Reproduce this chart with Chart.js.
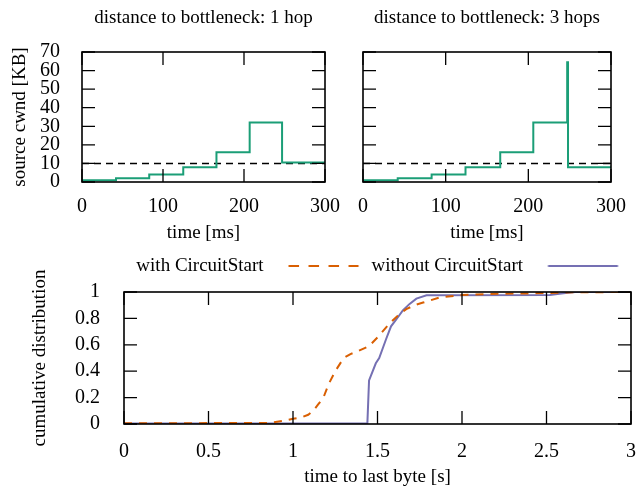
<!DOCTYPE html>
<html>
<head>
<meta charset="utf-8">
<script src="https://cdn.jsdelivr.net/npm/chart.js@4.4.1/dist/chart.umd.min.js"></script>
<style>
  html, body { margin: 0; padding: 0; background: #fff; }
  #wrap { position: relative; width: 640px; height: 487px; }
  canvas { position: absolute; }
</style>
</head>
<body>
<div id="wrap">
  <canvas id="hop1" width="340" height="250" style="left:0;top:0"></canvas>
  <canvas id="hop3" width="300" height="250" style="left:340px;top:0"></canvas>
  <canvas id="cdf" width="640" height="237" style="left:0;top:250px"></canvas>
</div>
<script>
// source cwnd over time, 1 hop to the bottleneck
const hop1Times = [0, 42, 83, 125, 166, 207, 247, 300];
const hop1Cwnd = [1, 2, 4, 8, 16, 32, 10.5, 10.5];
// source cwnd over time, 3 hops to the bottleneck
const hop3Times = [0, 42, 83, 124, 166, 206, 247, 248, 300];
const hop3Cwnd = [1, 2, 4, 8, 16, 32, 64.5, 8, 8];
// dashed reference line
const limitTimes = [0, 300];
const limitCwnd = [10, 10];

// cdf of time to last byte
const withCsTime = [0, 0.86, 0.95, 1.0, 1.05, 1.09, 1.12, 1.15, 1.18, 1.21, 1.25, 1.3, 1.34, 1.38, 1.45, 1.51, 1.57, 1.62, 1.67, 1.72, 1.77, 1.87, 2.0, 2.16, 2.42, 2.67, 3.0];
const withCsCdf = [0.005, 0.008, 0.025, 0.04, 0.05, 0.07, 0.1, 0.15, 0.2, 0.3, 0.4, 0.5, 0.53, 0.55, 0.59, 0.67, 0.76, 0.82, 0.87, 0.9, 0.92, 0.96, 0.977, 0.985, 0.99, 0.998, 1.0];
const withoutCsTime = [0, 1.44, 1.45, 1.49, 1.51, 1.55, 1.58, 1.61, 1.65, 1.69, 1.73, 1.79, 2.52, 2.6, 2.67, 3.0];
const withoutCsCdf = [0.003, 0.003, 0.33, 0.46, 0.5, 0.64, 0.74, 0.79, 0.86, 0.91, 0.95, 0.975, 0.977, 0.99, 1.0, 1.0];

const msTicks = [0, 100, 200, 300];
const cwndTicks = [0, 10, 20, 30, 40, 50, 60, 70];
const secTicks = [0, 0.5, 1, 1.5, 2, 2.5, 3];
const cdfTicks = [0, 0.2, 0.4, 0.6, 0.8, 1];

Chart.defaults.font.family = "'Liberation Serif', serif";
Chart.defaults.color = '#000';

const tickFont = { size: 20 };
const labelFont = { size: 19, lineHeight: 1 };

const pts = (xs, ys) => xs.map((x, i) => ({ x: x, y: ys[i] }));
const useTicks = list => scale => { scale.ticks = list.map(v => ({ value: v })); };
const plain = v => String(v);

// gnuplot style border with ticks pointing inwards on all four sides
const frame = {
  id: 'frame',
  afterDatasetsDraw(chart) {
    const { ctx, chartArea: a } = chart;
    const x = chart.scales.x, y = chart.scales.y;
    const len = 13;
    ctx.save();
    ctx.strokeStyle = '#000';
    ctx.lineWidth = 1.3;
    ctx.beginPath();
    x.ticks.forEach(t => {
      const px = x.getPixelForValue(t.value);
      ctx.moveTo(px, a.bottom); ctx.lineTo(px, a.bottom - len);
      ctx.moveTo(px, a.top); ctx.lineTo(px, a.top + len);
    });
    y.ticks.forEach(t => {
      const py = y.getPixelForValue(t.value);
      ctx.moveTo(a.left, py); ctx.lineTo(a.left + len, py);
      ctx.moveTo(a.right, py); ctx.lineTo(a.right - len, py);
    });
    ctx.stroke();
    ctx.lineWidth = 1.6;
    ctx.strokeRect(a.left, a.top, a.right - a.left, a.bottom - a.top);
    ctx.restore();
  }
};

function cwndChart(id, title, times, cwnd, showY, padRight, yWidth) {
  return new Chart(document.getElementById(id).getContext('2d'), {
    type: 'line',
    data: {
      datasets: [
        {
          data: pts(times, cwnd),
          borderColor: '#1b9e77',
          borderWidth: 2,
          stepped: true,
          pointRadius: 0
        },
        {
          data: pts(limitTimes, limitCwnd),
          borderColor: '#000',
          borderWidth: 1.5,
          borderDash: [7, 5],
          pointRadius: 0
        }
      ]
    },
    options: {
      responsive: false,
      animation: false,
      events: [],
      layout: { padding: { left: 0, right: padRight, top: 0, bottom: 0 } },
      plugins: { legend: { display: false }, tooltip: { enabled: false } },
      scales: {
        x: {
          type: 'linear', min: 0, max: 300,
          afterBuildTicks: useTicks(msTicks),
          ticks: { font: { size: 20, lineHeight: 2.5 }, padding: 0, maxRotation: 0, autoSkip: false, callback: plain },
          grid: { display: false, drawTicks: false },
          border: { display: false },
          title: { display: true, text: 'time [ms]', font: labelFont, padding: { top: 0, bottom: 7.5 } },
          afterFit: s => { s.height = 68; }
        },
        x2: {
          type: 'linear', position: 'top', min: 0, max: 300,
          ticks: { display: false },
          grid: { display: false, drawTicks: false },
          border: { display: false },
          title: { display: true, text: title, font: { size: 19, lineHeight: 1.2 }, padding: { top: 6.6, bottom: 0 } },
          afterFit: s => { s.height = 52; }
        },
        y: {
          min: 0, max: 70,
          afterBuildTicks: useTicks(cwndTicks),
          ticks: { display: showY, font: tickFont, padding: 22, autoSkip: false, callback: plain },
          grid: { display: false, drawTicks: false },
          border: { display: false },
          title: { display: showY, text: 'source cwnd [KB]', font: labelFont, padding: { top: 10.5, bottom: 0 } },
          afterFit: s => { s.width = yWidth; }
        }
      }
    },
    plugins: [frame]
  });
}

cwndChart('hop1', 'distance to bottleneck: 1 hop', hop1Times, hop1Cwnd, true, 14, 82);
cwndChart('hop3', 'distance to bottleneck: 3 hops', hop3Times, hop3Cwnd, false, 29, 23);

// legend samples drawn after the text, as gnuplot does
function sample(color, dash) {
  const c = document.createElement('canvas');
  c.width = 96; c.height = 4;
  const g = c.getContext('2d');
  g.strokeStyle = color;
  g.lineWidth = 2;
  g.setLineDash(dash);
  g.beginPath();
  g.moveTo(15.5, 2);
  g.lineTo(85.5, 2);
  g.stroke();
  return c;
}
const samples = [sample('#d95f02', [10.5, 9.5]), sample('#7570b3', [])];

new Chart(document.getElementById('cdf').getContext('2d'), {
  type: 'line',
  data: {
    datasets: [
      {
        label: 'with CircuitStart',
        data: pts(withCsTime, withCsCdf),
        borderColor: '#d95f02',
        backgroundColor: '#d95f02',
        borderWidth: 2,
        borderDash: [8, 7],
        pointRadius: 0
      },
      {
        label: 'without CircuitStart',
        data: pts(withoutCsTime, withoutCsCdf),
        borderColor: '#7570b3',
        backgroundColor: '#7570b3',
        borderWidth: 2,
        pointRadius: 0
      }
    ]
  },
  options: {
    responsive: false,
    animation: false,
    events: [],
    layout: { padding: { left: 0, right: 9, top: 4, bottom: 0 } },
    plugins: {
      tooltip: { enabled: false },
      legend: {
        position: 'top',
        align: 'start',
        rtl: true,
        reverse: true,
        textDirection: 'ltr',
        labels: {
          font: { size: 19 },
          usePointStyle: true,
          pointStyleWidth: 96,
          padding: 2.5,
          generateLabels(chart) {
            const items = Chart.defaults.plugins.legend.labels.generateLabels(chart);
            items.forEach(it => { it.pointStyle = samples[it.datasetIndex]; });
            return items;
          }
        }
      }
    },
    scales: {
      x: {
        type: 'linear', min: 0, max: 3,
        afterBuildTicks: useTicks(secTicks),
        ticks: { font: { size: 20, lineHeight: 2.8 }, padding: 0, maxRotation: 0, autoSkip: false, callback: plain },
        grid: { display: false, drawTicks: false },
        border: { display: false },
        title: { display: true, text: 'time to last byte [s]', font: labelFont, padding: { top: 0, bottom: 0.5 } },
        afterFit: s => { s.height = 63; }
      },
      x2: {
        type: 'linear', position: 'top', min: 0, max: 3,
        ticks: { display: false },
        grid: { display: false, drawTicks: false },
        border: { display: false },
        afterFit: s => { s.height = 6.5; }
      },
      y: {
        min: 0, max: 1,
        afterBuildTicks: useTicks(cdfTicks),
        ticks: { font: tickFont, padding: 24, autoSkip: false, callback: plain },
        grid: { display: false, drawTicks: false },
        border: { display: false },
        title: { display: true, text: 'cumulative distribution', font: labelFont, padding: { top: 30.5, bottom: 0 } },
        afterFit: s => { s.width = 124; }
      }
    }
  },
  plugins: [frame]
});
</script>
</body>
</html>
